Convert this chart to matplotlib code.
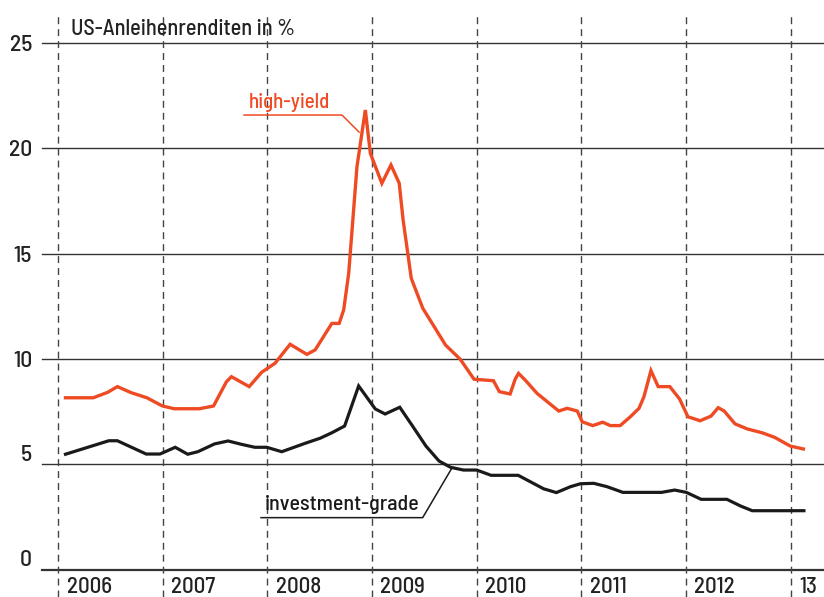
import matplotlib.pyplot as plt

plt.rcParams['font.family'] = ['Barlow Semi Condensed', 'Barlow Condensed', 'DejaVu Sans']

# decimal year / yield in %
hy_t = [2006.070, 2006.335, 2006.474, 2006.566, 2006.699, 2006.848, 2006.997,
        2007.109, 2007.350, 2007.485, 2007.608, 2007.656, 2007.826, 2007.945,
        2008.073, 2008.217, 2008.377, 2008.456, 2008.616, 2008.686, 2008.729, 2008.777,
        2008.856, 2008.936, 2008.984,
        2009.094, 2009.181, 2009.260, 2009.297, 2009.375, 2009.485, 2009.703, 2009.843, 2009.975,
        2010.160, 2010.217, 2010.320, 2010.368, 2010.400, 2010.464, 2010.577, 2010.785,
        2010.865, 2010.962,
        2011.009, 2011.110, 2011.205, 2011.277, 2011.372, 2011.467, 2011.552, 2011.599,
        2011.666, 2011.735, 2011.846, 2011.940,
        2012.019, 2012.136, 2012.240, 2012.309, 2012.366, 2012.470, 2012.587, 2012.728,
        2012.849, 2012.997, 2013.123]
hy_v = [8.16, 8.16, 8.42, 8.69, 8.40, 8.16, 7.77,
        7.64, 7.64, 7.77, 8.92, 9.16, 8.69, 9.37,
        9.80, 10.70, 10.22, 10.43, 11.69, 11.69, 12.33, 14.07,
        19.13, 21.82, 19.76,
        18.34, 19.21, 18.34, 16.60, 13.83, 12.41, 10.66, 9.99, 9.04,
        8.97, 8.45, 8.34, 9.04, 9.32, 9.00, 8.37, 7.53,
        7.66, 7.53,
        7.02, 6.84, 7.00, 6.84, 6.84, 7.25, 7.66, 8.21,
        9.45, 8.69, 8.69, 8.10,
        7.26, 7.07, 7.29, 7.69, 7.53, 6.92, 6.68, 6.50,
        6.28, 5.87, 5.73]

ig_t = [2006.070, 2006.484, 2006.566, 2006.841, 2006.973,
        2007.119, 2007.238, 2007.335, 2007.495, 2007.624, 2007.752, 2007.880, 2007.993,
        2008.137, 2008.361, 2008.504, 2008.616, 2008.738, 2008.872,
        2009.031, 2009.125, 2009.265, 2009.391, 2009.515, 2009.640, 2009.750, 2009.874,
        2010.000, 2010.138, 2010.397, 2010.640, 2010.762, 2010.897, 2010.993,
        2011.119, 2011.246, 2011.398, 2011.767, 2011.893,
        2012.004, 2012.146, 2012.392, 2012.524, 2012.634, 2013.128]
ig_v = [5.48, 6.12, 6.12, 5.49, 5.49,
        5.81, 5.48, 5.60, 5.97, 6.11, 5.95, 5.81, 5.81,
        5.60, 6.00, 6.24, 6.50, 6.82, 8.72,
        7.63, 7.39, 7.71, 6.79, 5.87, 5.16, 4.86, 4.73,
        4.73, 4.48, 4.48, 3.84, 3.66, 3.94, 4.08,
        4.10, 3.94, 3.67, 3.67, 3.78,
        3.67, 3.34, 3.34, 3.02, 2.80, 2.80]

years = [2006, 2007, 2008, 2009, 2010, 2011, 2012, 2013]
year_labels = ['2006', '2007', '2008', '2009', '2010', '2011', '2012', '13']
yticks = [0, 5, 10, 15, 20, 25]

RED = '#ee4b24'
BLACK = '#1a1a1a'
TXT = '#222222'

fig = plt.figure(figsize=(8.24, 5.97), dpi=100)
ax = fig.add_axes([0, 0, 1, 1])
ax.set_xlim(2005.444, 2013.320)
ax.set_ylim(-1.296, 27.04)
ax.axis('off')

# horizontal grid + y labels
for v in yticks:
    ax.plot([2005.845, 2013.32], [v, v], color='#333333', lw=1.6 if v == 0 else 1.0, zorder=1)
    dy = 0.45 if v < 10 else -0.1
    ax.text(2005.75, v + dy, str(v), ha='right', va='center', fontsize=17,
            fontweight='medium', color=TXT)

# dashed year separators
for y, lab in zip(years, year_labels):
    ax.plot([y, y], [-1.3, 26.4], color='#444444', lw=1.0, dashes=(5, 3.6), zorder=1)
    ax.text(y + 0.08, -1.29, lab, ha='left', va='bottom', fontsize=16.5,
            fontweight='medium', color=TXT)

ax.plot(hy_t, hy_v, color=RED, lw=2.4, solid_joinstyle='miter', zorder=3)
ax.plot(ig_t, ig_v, color=BLACK, lw=2.3, solid_joinstyle='miter', zorder=3)

ax.text(2006.123, 25.66, 'US-Anleihenrenditen in %', ha='left', va='center', fontsize=16,
        fontweight='medium', color=TXT)

# series labels with leader lines
ax.text(2007.826, 21.9, 'high-yield', ha='left', va='baseline', fontsize=15,
        fontweight='medium', color=RED)
ax.plot([2007.777, 2008.713, 2008.876], [21.58, 21.58, 20.77], color=RED, lw=1.1, zorder=2)
ax.text(2007.977, 2.85, 'investment-grade', ha='left', va='baseline', fontsize=15.8,
        fontweight='medium', color=BLACK)
ax.plot([2007.939, 2009.484, 2009.764], [2.47, 2.47, 4.83], color=BLACK, lw=1.1, zorder=2)

fig.savefig('out.png', dpi=100)
